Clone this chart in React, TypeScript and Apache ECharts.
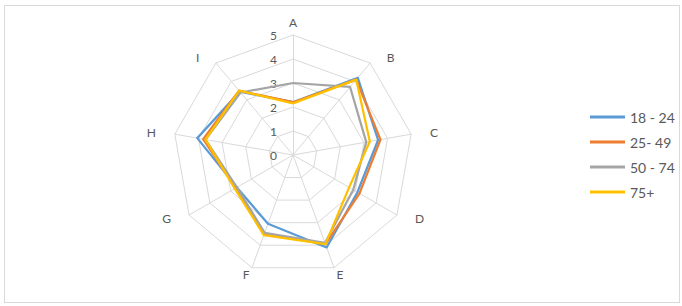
import React, { useEffect, useRef } from "react";
import * as echarts from "echarts";

const categories = ["A", "B", "C", "D", "E", "F", "G", "H", "I"];
const seriesNames = ["18 - 24", "25- 49", "50 - 74", "75+"];
const colors = ["#5B9BD5", "#ED7D31", "#A5A5A5", "#FFC000"];
const age18to24 = [2.2, 4.2, 3.6, 3.1, 4.1, 3.05, 2.7, 4.05, 3.45];
const age25to49 = [2.2, 4.1, 3.7, 3.2, 3.95, 3.5, 2.75, 3.8, 3.5];
const age50to74 = [3.0, 3.7, 3.1, 2.9, 3.9, 3.45, 2.7, 3.7, 3.4];
const age75plus = [2.15, 4.1, 3.25, 2.7, 3.95, 3.55, 2.8, 3.7, 3.5];
const maxValue = 5;

// ECharts lays indicators counter-clockwise; reorder so they run clockwise
const order = [0, 8, 7, 6, 5, 4, 3, 2, 1];
const centeredNames = ["A", "E", "F"];

export default function App() {
  const ref = useRef<HTMLDivElement>(null);
  useEffect(() => {
    if (!ref.current) return;
    const chart = echarts.init(ref.current, undefined, { renderer: "svg" });
    const allValues = [age18to24, age25to49, age50to74, age75plus];
    chart.setOption({
      animation: false,
      textStyle: { fontFamily: "Lato, 'Liberation Sans', sans-serif" },
      legend: {
        orient: "vertical",
        left: 585,
        top: 105,
        itemWidth: 35,
        itemHeight: 3,
        itemGap: 11,
        icon: "rect",
        data: seriesNames,
        textStyle: { color: "#595959", fontSize: 14, fontFamily: "Lato, sans-serif" },
      },
      radar: {
        center: [293, 155],
        radius: 120,
        shape: "polygon",
        splitNumber: 5,
        startAngle: 90,
        nameGap: 7,
        axisName: {
          color: "#595959",
          fontSize: 12,
          fontFamily: "Lato, sans-serif",
          formatter: (name: string) =>
            centeredNames.includes(name) ? `{c|${name}}` : `{s|${name}}`,
          rich: {
            c: { color: "#595959", fontSize: 12, fontFamily: "Lato, sans-serif" },
            s: {
              color: "#595959",
              fontSize: 12,
              fontFamily: "Lato, sans-serif",
              padding: [0, 12, 0, 12],
            },
          },
        },
        splitLine: { lineStyle: { color: "#D9D9D9", width: 1 } },
        splitArea: { show: false },
        axisLine: { lineStyle: { color: "#D9D9D9", width: 1 } },
        axisLabel: { show: false },
        indicator: order.map((i, k) => ({
          name: categories[i],
          min: 0,
          max: maxValue,
          ...(k === 0
            ? {
                axisLabel: {
                  show: true,
                  color: "#595959",
                  fontSize: 12,
                  margin: 16,
                  fontFamily: "Lato, sans-serif",
                },
              }
            : {}),
        })),
      },
      series: [
        {
          type: "radar",
          symbol: "none",
          data: allValues.map((vals, s) => ({
            name: seriesNames[s],
            value: order.map((i) => vals[i]),
            lineStyle: { color: colors[s], width: 2.25 },
            itemStyle: { color: colors[s] },
          })),
        },
      ],
    });
    return () => chart.dispose();
  }, []);
  return (
    <div
      style={{
        position: "fixed",
        left: 0,
        top: 0,
        width: 682,
        height: 306,
        background: "#fff",
      }}
    >
      <div
        style={{
          position: "absolute",
          left: 4,
          top: 5,
          width: 676,
          height: 298,
          border: "1px solid #D9D9D9",
          boxSizing: "border-box",
        }}
      />
      <div ref={ref} style={{ position: "absolute", left: 0, top: 0, width: 682, height: 306 }} />
    </div>
  );
}
